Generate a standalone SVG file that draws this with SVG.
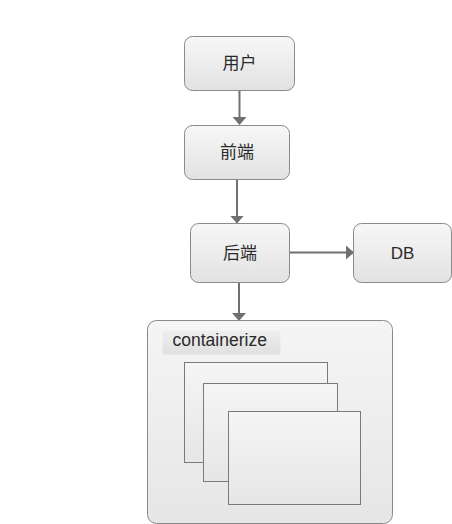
<svg xmlns="http://www.w3.org/2000/svg" width="452" height="524" viewBox="0 0 452 524">
<defs>
<linearGradient id="g" x1="0" y1="0" x2="0" y2="1">
<stop offset="0" stop-color="#f7f7f7"/>
<stop offset="1" stop-color="#e2e2e2"/>
</linearGradient>
<linearGradient id="gc" x1="0" y1="0" x2="0" y2="1">
<stop offset="0" stop-color="#f5f5f5"/>
<stop offset="1" stop-color="#e6e6e6"/>
</linearGradient>
<linearGradient id="gl" x1="0" y1="0" x2="0" y2="1">
<stop offset="0" stop-color="#eeeeee"/>
<stop offset="1" stop-color="#e0e0e0"/>
</linearGradient>
<marker id="ah" markerWidth="8" markerHeight="14" refX="7" refY="7" orient="auto" markerUnits="userSpaceOnUse" viewBox="0 0 8 14">
<path d="M0,0 L8,7 L0,14 Z" fill="#707070"/>
</marker>
</defs>
<style>
.box{fill:url(#g);stroke:#8a8a8a;stroke-width:1}
.inner{fill:url(#gc);stroke:#7a7a7a;stroke-width:1}
.t{font-family:"Liberation Sans","Noto Sans CJK SC",sans-serif;font-size:17px;fill:#2a2a2a;text-anchor:middle;dominant-baseline:central}
.c{stroke:#707070;stroke-width:2;fill:none}
</style>
<rect width="452" height="524" fill="#ffffff"/>
<g id="connectors">
<path class="c" d="M239.5,90.5 V124" marker-end="url(#ah)"/>
<path class="c" d="M237,179.5 V222.5" marker-end="url(#ah)"/>
<path class="c" d="M289.5,252.5 H353" marker-end="url(#ah)"/>
<path class="c" d="M239,282.5 V320" marker-end="url(#ah)"/>
</g>
<g id="user">
<rect class="box" x="184.5" y="36.5" width="110" height="54" rx="8"/>
<text class="t" x="239.5" y="63.5">用户</text>
</g>
<g id="frontend">
<rect class="box" x="184.5" y="125.5" width="105" height="54" rx="8"/>
<text class="t" x="237" y="152.5">前端</text>
</g>
<g id="backend">
<rect class="box" x="190.5" y="223.5" width="99" height="59" rx="8"/>
<text class="t" x="240" y="253">后端</text>
</g>
<g id="db">
<rect class="box" x="353.5" y="223.5" width="98" height="59" rx="8"/>
<text class="t" x="402.5" y="253">DB</text>
</g>
<g id="containerize">
<rect class="box" x="147.5" y="320.5" width="245" height="203" rx="9" style="fill:url(#gc)"/>
<rect x="162.5" y="331" width="118" height="23.5" fill="url(#gl)"/>
<text x="172.5" y="345.5" font-family="Liberation Sans, sans-serif" font-size="17.5" fill="#2a2a2a">containerize</text>
<rect class="inner" x="184.5" y="362.5" width="143" height="100"/>
<rect class="inner" x="203.5" y="383.5" width="134" height="98"/>
<rect class="inner" x="228.5" y="411.5" width="132" height="93"/>
</g>
</svg>
